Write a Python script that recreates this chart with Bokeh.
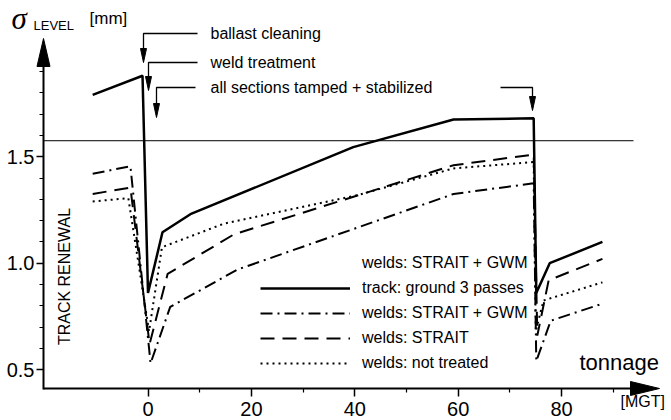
import math
from bokeh.plotting import figure
from bokeh.models import (Range1d, FixedTicker, Label, Legend, LegendItem,
                          NumeralTickFormatter)
from bokeh.embed import file_html
from bokeh.resources import INLINE

# ---------------- data ----------------
# track: ground 3 passes (solid)
tonnage_solid = [-10.7, -1.06, 0.0, 2.8, 8.2, 39.7, 59.1, 74.6, 75.1, 77.7, 87.9]
level_solid = [1.79, 1.88, 0.86, 1.145, 1.23, 1.545, 1.675, 1.68, 0.86, 1.0, 1.10]

# welds: STRAIT + GWM (dash-dot)
tonnage_dashdot = [-10.7, -3.4, 0.5, 4.3, 17.3, 59.1, 74.6, 75.1, 77.9, 87.9]
level_dashdot = [1.42, 1.455, 0.53, 0.795, 0.97, 1.325, 1.375, 0.54, 0.73, 0.81]

# welds: STRAIT (dashed)
tonnage_dashed = [-10.7, -3.4, 0.3, 3.8, 16.6, 59.1, 74.6, 75.3, 77.5, 87.9]
level_dashed = [1.325, 1.355, 0.62, 0.95, 1.135, 1.46, 1.51, 0.66, 0.92, 1.02]

# welds: not treated (dotted)
tonnage_dotted = [-10.7, -3.8, 0.2, 2.7, 14.6, 40.6, 59.1, 74.6, 75.0, 76.5, 87.9]
level_dotted = [1.29, 1.305, 0.68, 1.075, 1.185, 1.32, 1.445, 1.475, 0.68, 0.825, 0.91]

reference_level = 1.575

x_major = [0, 20, 40, 60, 80]
x_minor = [10, 30, 50, 70, 90]
y_major = [0.5, 1.0, 1.5]
y_minor = [0.6, 0.7, 0.8, 0.9, 1.1, 1.2, 1.3, 1.4, 1.6, 1.7, 1.8, 1.9]

legend_labels = ["welds: STRAIT + GWM", "track: ground 3 passes",
                 "welds: STRAIT + GWM", "welds: STRAIT", "welds: not treated"]
event_texts = ["ballast cleaning", "weld treatment", "all sections tamped + stabilized"]

# ---------------- layout helpers (canvas pixels -> data) ----------------
W, H = 671, 420
PX0, SX = 147.5, 5.17    # canvas x of 0 MGT, px per MGT
PY1, SY = 262.7, 213.0   # canvas y of 1.0 mm, px per mm


def X(px):
    return (px - PX0) / SX


def Y(py):
    return 1 + (PY1 - py) / SY


FONT = "Liberation Sans"

p = figure(width=W, height=H,
           x_range=Range1d(X(0), X(W)), y_range=Range1d(Y(H), Y(0)),
           output_backend="svg", toolbar_location=None, min_border=0)
p.outline_line_color = None
p.grid.visible = False

xa = p.xaxis[0]
ya = p.yaxis[0]
xa.fixed_location = Y(388)
ya.fixed_location = X(43)
xa.bounds = (X(43), X(632))
ya.bounds = (Y(389), Y(64))
xa.ticker = FixedTicker(ticks=x_major, minor_ticks=x_minor)
ya.ticker = FixedTicker(ticks=y_major, minor_ticks=y_minor)
ya.formatter = NumeralTickFormatter(format="0.0")
for ax in (xa, ya):
    ax.axis_line_width = 2
    ax.axis_line_color = "black"
    ax.major_tick_line_color = "black"
    ax.minor_tick_line_color = "black"
    ax.major_tick_line_width = 1.5
    ax.minor_tick_line_width = 1.2
    ax.major_label_text_font = FONT
    ax.major_label_text_font_size = "20px"
    ax.major_label_text_color = "black"
    ax.major_tick_in = 0
    ax.minor_tick_in = 0
xa.major_tick_out = 8
xa.minor_tick_out = 4
xa.major_label_standoff = 5
ya.major_tick_out = 7
ya.minor_tick_out = 4
ya.major_label_standoff = 2

# axis arrow heads
p.patches(xs=[[X(43), X(36.5), X(49.5)], [X(659), X(630), X(630)]],
          ys=[[Y(38), Y(66), Y(66)], [Y(388), Y(381), Y(395)]],
          fill_color="black", line_color="black", line_width=1)

# thin horizontal reference line
p.segment(x0=[X(43)], y0=[reference_level], x1=[X(633)], y1=[reference_level],
          line_color="black", line_width=1)

# data lines
r_solid = p.line(tonnage_solid, level_solid, line_color="black", line_width=2.5)
r_dd = p.line(tonnage_dashdot, level_dashdot, line_color="black", line_width=2,
              line_dash="12 5 2 5")
r_dash = p.line(tonnage_dashed, level_dashed, line_color="black", line_width=2,
                line_dash="14 8")
r_dot = p.line(tonnage_dotted, level_dotted, line_color="black", line_width=2,
               line_dash="2 4")
r_blank = p.line(tonnage_dashdot, level_dashdot, line_alpha=0)

legend = Legend(items=[LegendItem(label=legend_labels[0], renderers=[r_blank]),
                       LegendItem(label=legend_labels[1], renderers=[r_solid]),
                       LegendItem(label=legend_labels[2], renderers=[r_dd]),
                       LegendItem(label=legend_labels[3], renderers=[r_dash]),
                       LegendItem(label=legend_labels[4], renderers=[r_dot])],
                location=(260, 47), orientation="vertical",
                glyph_width=90, glyph_height=20, label_height=20, spacing=5,
                padding=0, margin=0, label_standoff=12,
                border_line_alpha=0, background_fill_alpha=0,
                label_text_font=FONT, label_text_font_size="16px",
                label_text_color="black")
p.add_layout(legend)

# event leaders with arrows: (text, text-left px, row y px, leader start px, tip x px, tip y px)
leaders = [(event_texts[0], 210, 33, 197, 143, 62),
           (event_texts[1], 210, 62, 197, 148, 90),
           (event_texts[2], 210, 87, 195, 156, 117),
           (None, 0, 87, 500, 532, 110)]
lx, ly, hx, hy = [], [], [], []
for text, tx, ry, sx, tipx, tipy in leaders:
    lx.append([X(sx), X(tipx), X(tipx)])
    ly.append([Y(ry), Y(ry), Y(tipy - 8)])
    hx.append([X(tipx), X(tipx - 3), X(tipx + 3)])
    hy.append([Y(tipy), Y(tipy - 14), Y(tipy - 14)])
    if text:
        p.add_layout(Label(x=X(tx), y=Y(ry), text=text, text_baseline="middle",
                           text_font=FONT, text_font_size="16px", text_color="black"))
p.multi_line(xs=lx, ys=ly, line_color="black", line_width=1.3)
p.patches(xs=hx, ys=hy, fill_color="black", line_color="black", line_width=1)

# axis titles
p.add_layout(Label(x=X(11), y=Y(17.5), text="σ", text_font="Liberation Serif",
                   text_font_style="italic", text_font_size="31px",
                   text_baseline="middle", text_color="black"))
p.add_layout(Label(x=X(33), y=Y(25), text="LEVEL", text_font=FONT,
                   text_font_size="13px", text_baseline="middle", text_color="black"))
p.add_layout(Label(x=X(89), y=Y(18), text="[mm]", text_font=FONT,
                   text_font_size="17px", text_baseline="middle", text_color="black"))
p.add_layout(Label(x=X(579), y=Y(362), text="tonnage", text_font=FONT,
                   text_font_size="22px", text_baseline="middle", text_color="black"))
p.add_layout(Label(x=X(620), y=Y(401), text="[MGT]", text_font=FONT,
                   text_font_size="16px", text_baseline="middle", text_color="black"))
p.add_layout(Label(x=X(64), y=Y(276), text="TRACK RENEWAL", angle=math.pi / 2,
                   text_align="center", text_baseline="middle", text_font=FONT,
                   text_font_size="16px", text_color="black"))

open("out.html", "w").write(file_html(p, INLINE))
